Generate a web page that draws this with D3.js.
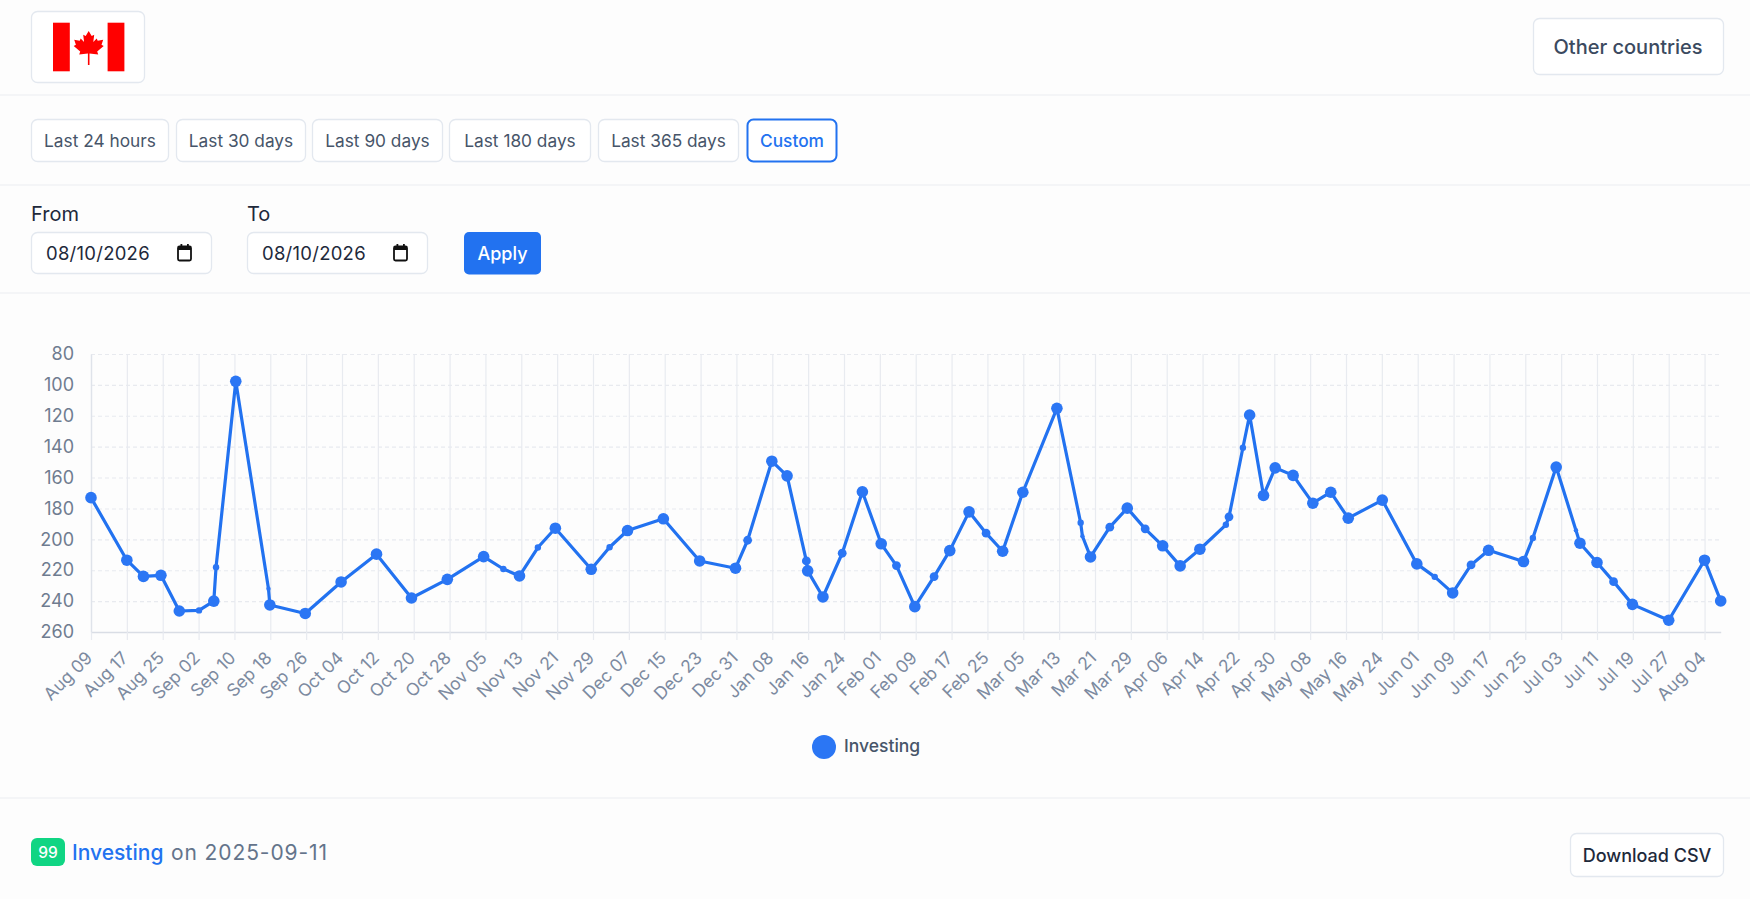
<!DOCTYPE html>
<html>
<head>
<meta charset="utf-8">
<title>Canada rank</title>
<script src="https://cdn.jsdelivr.net/npm/d3@7"></script>
<style>
    html, body { margin: 0; padding: 0; background: #fdfdfd; overflow: hidden; }
    svg { display: block; font-family: Inter, "Noto Sans", sans-serif; }
</style>
</head>
<body>
<div id="page"></div>
<script>
// Day offsets from Aug 09 (fractional, the points do not sit on whole categories)
const days = [0, 8, 11.7, 15.6, 19.7, 24.1, 27.4, 27.9, 32.3, 39.6, 39.9, 47.8, 55.8, 63.7, 71.5, 79.5,
    87.6, 92, 95.6, 99.7, 103.6, 111.6, 115.7, 119.7, 127.7, 135.8, 143.8, 146.5, 151.9, 155.3, 159.6, 159.9,
    163.3, 167.6, 172.1, 176.3, 179.7, 183.8, 188.1, 191.6, 195.9, 199.7, 203.4, 207.9, 215.5, 220.8, 221.2,
    223, 227.3, 231.2, 235.2, 239.1, 243, 247.4, 253.2, 253.9, 257, 258.5, 261.6, 264.2, 268.2, 272.6, 276.6,
    280.5, 288.1, 295.8, 299.8, 303.8, 307.9, 311.8, 319.6, 321.7, 326.9, 331.3, 332.2, 336, 339.7, 343.9,
    352, 360, 363.6];
const ranks = [173, 213.5, 224, 223.3, 246.4, 246, 240, 218, 97.7, 232, 242.5, 248, 227.6, 209.6, 238, 225.9,
    211.2, 219.2, 223.7, 205.3, 192.8, 219.4, 205.1, 194.3, 186.7, 214, 218.7, 200.6, 149.4, 158.9, 214, 220.4,
    237.3, 209, 169.2, 202.9, 217, 243.6, 224.1, 207.3, 182.2, 196, 207.7, 169.5, 115.2, 189.3, 198,
    211.4, 192.1, 179.8, 193.2, 204.2, 217.2, 206.4, 190.6, 185.4, 140.7, 119.5, 171.6, 153.7, 158.6, 176.6, 169.5,
    186.3, 174.6, 215.9, 224.3, 234.7, 216.6, 207.1, 214.4, 199.1, 153.2, 194.1, 202.5, 215, 227.4, 242.1,
    252.4, 213.5, 239.9];
const xLabels = ['Aug 09', 'Aug 17', 'Aug 25', 'Sep 02', 'Sep 10', 'Sep 18', 'Sep 26', 'Oct 04', 'Oct 12', 'Oct 20',
    'Oct 28', 'Nov 05', 'Nov 13', 'Nov 21', 'Nov 29', 'Dec 07', 'Dec 15', 'Dec 23', 'Dec 31', 'Jan 08', 'Jan 16',
    'Jan 24', 'Feb 01', 'Feb 09', 'Feb 17', 'Feb 25', 'Mar 05', 'Mar 13', 'Mar 21', 'Mar 29', 'Apr 06', 'Apr 14',
    'Apr 22', 'Apr 30', 'May 08', 'May 16', 'May 24', 'Jun 01', 'Jun 09', 'Jun 17', 'Jun 25', 'Jul 03', 'Jul 11',
    'Jul 19', 'Jul 27', 'Aug 04'];
const yTicks = [80, 100, 120, 140, 160, 180, 200, 220, 240, 260];
const rangeButtons = ['Last 24 hours', 'Last 30 days', 'Last 90 days', 'Last 180 days', 'Last 365 days', 'Custom'];

// Some points are drawn smaller in the reference (indexes into days/ranks)
const midPoints = new Set([27, 30, 33, 36, 38, 41, 48, 50, 55, 68, 76]);
const smallPoints = new Set([5, 7, 17, 19, 22, 45, 54, 56, 66, 71]);
const tinyPoints = new Set([9, 46, 73]);

const BLUE = '#2272f0';
const BORDER = '#e3e8ef';

const svg = d3.select('#page').append('svg')
    .attr('width', 1750)
    .attr('height', 899);

function label(x, y, str, size, color, weight, anchor) {
    return svg.append('text')
        .attr('x', x)
        .attr('y', y)
        .attr('dominant-baseline', 'central')
        .attr('text-anchor', anchor || 'start')
        .attr('font-size', size)
        .attr('font-weight', weight || 400)
        .attr('fill', color)
        .text(str);
}

function box(x0, y0, x1, y1, stroke, fill, sw) {
    return svg.append('rect')
        .attr('x', x0 + 0.5)
        .attr('y', y0 + 0.5)
        .attr('width', x1 - x0 - 1)
        .attr('height', y1 - y0 - 1)
        .attr('rx', 6)
        .attr('fill', fill || '#fff')
        .attr('stroke', stroke || BORDER)
        .attr('stroke-width', sw || 1.3);
}

// Section dividers
[95, 185, 293, 798].forEach(y => {
    svg.append('line')
        .attr('x1', 0).attr('x2', 1750)
        .attr('y1', y).attr('y2', y)
        .attr('stroke', '#f0f2f5')
        .attr('stroke-width', 1.3);
});

// Header
box(31, 11, 145, 83);
svg.append('rect').attr('x', 53).attr('y', 22.7).attr('width', 71).attr('height', 48.6).attr('fill', '#fff');
svg.append('rect').attr('x', 53).attr('y', 22.7).attr('width', 16.8).attr('height', 48.6).attr('fill', '#ff0000');
svg.append('rect').attr('x', 107.6).attr('y', 22.7).attr('width', 16.8).attr('height', 48.6).attr('fill', '#ff0000');
svg.append('path')
    .attr('transform', 'translate(88.7,31)')
    .attr('fill', '#ff0000')
    .attr('d', 'M0,0 L3,5 L5.5,3.8 L4.6,11 L8,7.5 L9,9.8 L14.5,8.8 L12.8,13.8 L15,15 L8.5,20.5 L9.5,23.5 L0.8,22.5 L0.8,34 L-0.8,34 L-0.8,22.5 L-9.5,23.5 L-8.5,20.5 L-15,15 L-12.8,13.8 L-14.5,8.8 L-9,9.8 L-8,7.5 L-4.6,11 L-5.5,3.8 L-3,5 Z');
box(1533, 18, 1724, 75);
label(1628, 46.5, 'Other countries', 20, '#3b4a60', 500, 'middle');

// Range buttons
const buttonEdges = [[31, 169], [176, 306], [312, 443], [449, 591], [598, 739], [747, 837]];
rangeButtons.forEach((name, i) => {
    const active = name === 'Custom';
    box(buttonEdges[i][0], 119, buttonEdges[i][1], 162, active ? BLUE : BORDER, '#fff', active ? 2 : 1.3);
    label((buttonEdges[i][0] + buttonEdges[i][1]) / 2, 140.5, name, 17.3, active ? BLUE : '#475569', active ? 500 : 400, 'middle');
});

// Date inputs
function dateInput(x0, title) {
    label(x0, 214, title, 20, '#1e293b', 400);
    box(x0, 232, x0 + 181, 274);
    label(x0 + 15, 253, '08/10/2026', 18.5, '#1e293b', 400).attr('letter-spacing', 0.25);
    const ix = x0 + 146;
    svg.append('rect').attr('x', ix + 1).attr('y', 246.5).attr('width', 13).attr('height', 14).attr('rx', 1.5)
        .attr('fill', 'none').attr('stroke', '#111').attr('stroke-width', 1.8);
    svg.append('rect').attr('x', ix + 1).attr('y', 246.5).attr('width', 13).attr('height', 3.5).attr('fill', '#111');
    [ix + 3.5, ix + 10].forEach(x => {
        svg.append('rect').attr('x', x).attr('y', 244).attr('width', 1.8).attr('height', 3).attr('fill', '#111');
    });
}
dateInput(31, 'From');
dateInput(247, 'To');
svg.append('rect').attr('x', 464).attr('y', 232).attr('width', 77).attr('height', 42.5).attr('rx', 5).attr('fill', BLUE);
label(502.5, 253, 'Apply', 18, '#fff', 500, 'middle');

// Chart
const x = d3.scaleLinear().domain([0, 363.6]).range([91, 1720.7]);
const y = d3.scaleLinear().domain([80, 260]).range([354, 632]);
const xTickDays = xLabels.map((d, i) => i * 8);

const xGrid = svg.append('g')
    .attr('transform', 'translate(0,632)')
    .call(d3.axisBottom(x).tickValues(xTickDays).tickSize(-278).tickFormat(''));
xGrid.select('.domain').remove();
xGrid.selectAll('line').attr('stroke', '#e8ebf0').attr('stroke-width', 1.2);

const yGrid = svg.append('g')
    .attr('transform', 'translate(91,0)')
    .call(d3.axisLeft(y).tickValues(yTicks).tickSize(-(1720.7 - 91)).tickFormat(''));
yGrid.select('.domain').remove();
yGrid.selectAll('line')
    .attr('stroke', '#e8eaef')
    .attr('stroke-width', 1.1)
    .attr('stroke-dasharray', '4 3');

const xAxis = svg.append('g')
    .attr('transform', 'translate(0,632)')
    .call(d3.axisBottom(x).tickValues(xTickDays).tickSizeInner(8).tickSizeOuter(0).tickFormat((d, i) => xLabels[i]));
xAxis.select('.domain').attr('stroke', '#d9dde5').attr('stroke-width', 1.3);
xAxis.selectAll('line').attr('stroke', '#e8ebf0').attr('stroke-width', 1.2);
xAxis.selectAll('text')
    .attr('font-family', 'Inter, "Noto Sans", sans-serif')
    .attr('font-size', 17.5)
    .attr('fill', '#7c8aa0')
    .attr('text-anchor', 'end')
    .attr('dy', 0)
    .attr('y', 0)
    .attr('transform', 'translate(2,27) rotate(-45)');

const yAxis = svg.append('g')
    .attr('transform', 'translate(91,0)')
    .call(d3.axisLeft(y).tickValues(yTicks).tickSize(0).tickPadding(17));
yAxis.select('.domain').attr('stroke', '#dfe3ea').attr('stroke-width', 1.3);
yAxis.selectAll('text')
    .attr('font-family', 'Inter, "Noto Sans", sans-serif')
    .attr('font-size', 18)
    .attr('fill', '#6f7c90');

const points = days.map((d, i) => ({ day: d, rank: ranks[i], i }));

const line = d3.line()
    .x(d => x(d.day))
    .y(d => y(d.rank));

svg.append('path')
    .datum(points)
    .attr('d', line)
    .attr('fill', 'none')
    .attr('stroke', BLUE)
    .attr('stroke-width', 3.2)
    .attr('stroke-linejoin', 'round');

svg.append('g')
    .selectAll('circle')
    .data(points)
    .enter()
    .append('circle')
    .attr('cx', d => x(d.day))
    .attr('cy', d => y(d.rank))
    .attr('r', d => {
        if (tinyPoints.has(d.i)) return 2.2;
        if (smallPoints.has(d.i)) return 3.2;
        if (midPoints.has(d.i)) return 4.4;
        return 5.8;
    })
    .attr('fill', '#2b76f4');

// Legend
svg.append('circle').attr('cx', 824).attr('cy', 747).attr('r', 12).attr('fill', '#2b76f4');
label(844, 745, 'Investing', 17.5, '#475569', 500);

// Footer
svg.append('rect').attr('x', 31).attr('y', 838).attr('width', 34).attr('height', 28).attr('rx', 6).attr('fill', '#10d583');
label(48, 852.5, '99', 15.5, '#fff', 500, 'middle');
label(72, 852.5, 'Investing', 21, BLUE, 500);
label(171, 852.5, 'on 2025-09-11', 21, '#64748b', 400).attr('letter-spacing', 0.9);
box(1570, 833, 1724, 877);
label(1647, 855, 'Download CSV', 18, '#1e293b', 500, 'middle');
</script>
</body>
</html>
